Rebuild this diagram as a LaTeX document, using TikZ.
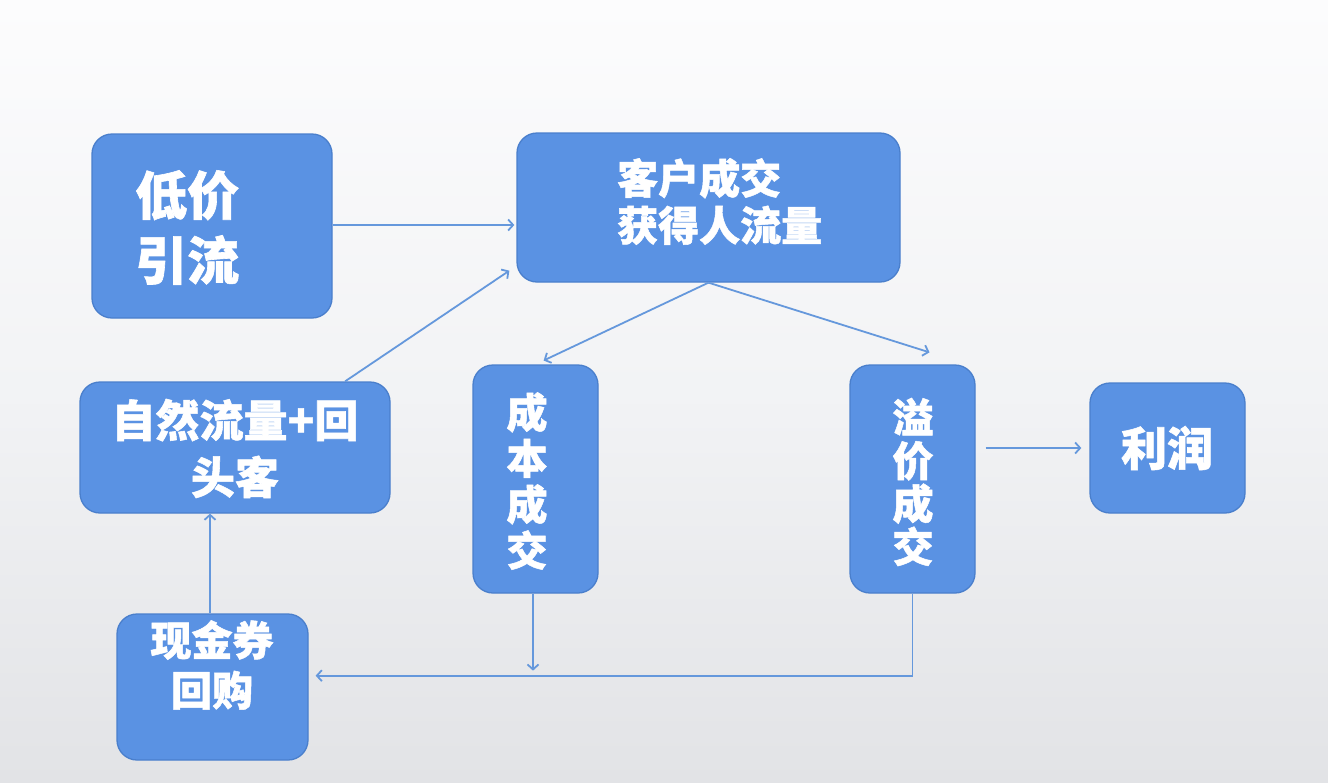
\documentclass[tikz,border=0pt]{standalone}
\usepackage{fontspec}
\newfontfamily\cjk{Noto Sans CJK SC}[BoldFeatures={FakeBold=1.2}]
\usetikzlibrary{arrows.meta,calc}
\definecolor{boxfill}{HTML}{5A92E3}
\definecolor{boxline}{HTML}{4A7FCC}
\definecolor{arr}{HTML}{6598DC}
\definecolor{bgtop}{HTML}{FCFCFD}
\definecolor{bgmid}{HTML}{F2F3F5}
\definecolor{bgbot}{HTML}{E2E3E6}
\tikzset{
  box/.style={draw=boxline, fill=boxfill, line width=1.3pt, rounded corners=20pt, inner sep=0pt},
  txt/.style={text=white, font=\cjk\bfseries, inner sep=0pt},
  conn/.style={draw=arr, line width=1.8pt, -{Straight Barb[length=5pt,width=11pt,line width=1.8pt]}},
}
\begin{document}
\begin{tikzpicture}[x=1pt,y=-1pt]
\useasboundingbox (0,0) rectangle (1328,782);
\shade[top color=bgtop, bottom color=bgbot, middle color=bgmid] (0,0) rectangle (1328,782);
% boxes
\node[box, minimum width=240pt, minimum height=184pt] (low) at (212,226) {};
\node[box, minimum width=383pt, minimum height=149pt] (cust) at (708.5,207.5) {};
\node[box, minimum width=310pt, minimum height=131pt] (nat) at (235,447.5) {};
\node[box, minimum width=125pt, minimum height=228pt] (cost) at (535.5,479) {};
\node[box, minimum width=125pt, minimum height=228pt] (prem) at (912.5,479) {};
\node[box, minimum width=155pt, minimum height=130pt] (profit) at (1167.5,448) {};
\node[box, minimum width=191pt, minimum height=146pt] (cash) at (212.5,687) {};
% texts
\node[txt, anchor=west, align=left, font=\cjk\bfseries\fontsize{52}{65}\selectfont] (tlow) at (135,227.5) {低价\\引流};
\node[txt, anchor=west, align=left, font=\cjk\bfseries\fontsize{41}{47}\selectfont] (tcust) at (617,201.5) {客户成交\\获得人流量};
\node[txt, align=center, font=\cjk\bfseries\fontsize{44}{57}\selectfont] (tnat) at (235,448.5) {自然流量+回\\头客};
\node[txt, align=center, font=\cjk\bfseries\fontsize{41}{46}\selectfont] (tcost) at (527,481) {成\\本\\成\\交};
\node[txt, align=center, font=\cjk\bfseries\fontsize{41}{43}\selectfont] (tprem) at (913,482) {溢\\价\\成\\交};
\node[txt, align=center, font=\cjk\bfseries\fontsize{46}{55}\selectfont] (tprofit) at (1167,448) {利润};
\node[txt, align=center, font=\cjk\bfseries\fontsize{41}{50}\selectfont] (tcash) at (212,665) {现金券\\回购};
% connectors
\coordinate (bend) at ($(prem.south)+(0,82)$);
\draw[conn] (low.east |- 0,225) -- ($(cust.west |- 0,225)+(-2,0)$);
\draw[conn] (nat.31) -- ($(cust.south west)+(-7,-12)$);
\draw[conn, shorten >=9pt] (cust.south) -- (cost.north);
\draw[conn] (cust.south) -- ($(prem.north)+(17,-12)$);
\draw[conn, shorten >=5pt] (cost.south -| 533,0) -- (bend -| 533,0);
\draw[conn, shorten >=7pt] (prem.south) -- (bend) -- (bend -| cash.east);
\draw[conn] (cash.north -| 210,0) -- (nat.south -| 210,0);
\draw[conn, shorten >=8pt] ($(prem.east |- profit.west)+(10,0)$) -- (profit.west);
\end{tikzpicture}
\end{document}
